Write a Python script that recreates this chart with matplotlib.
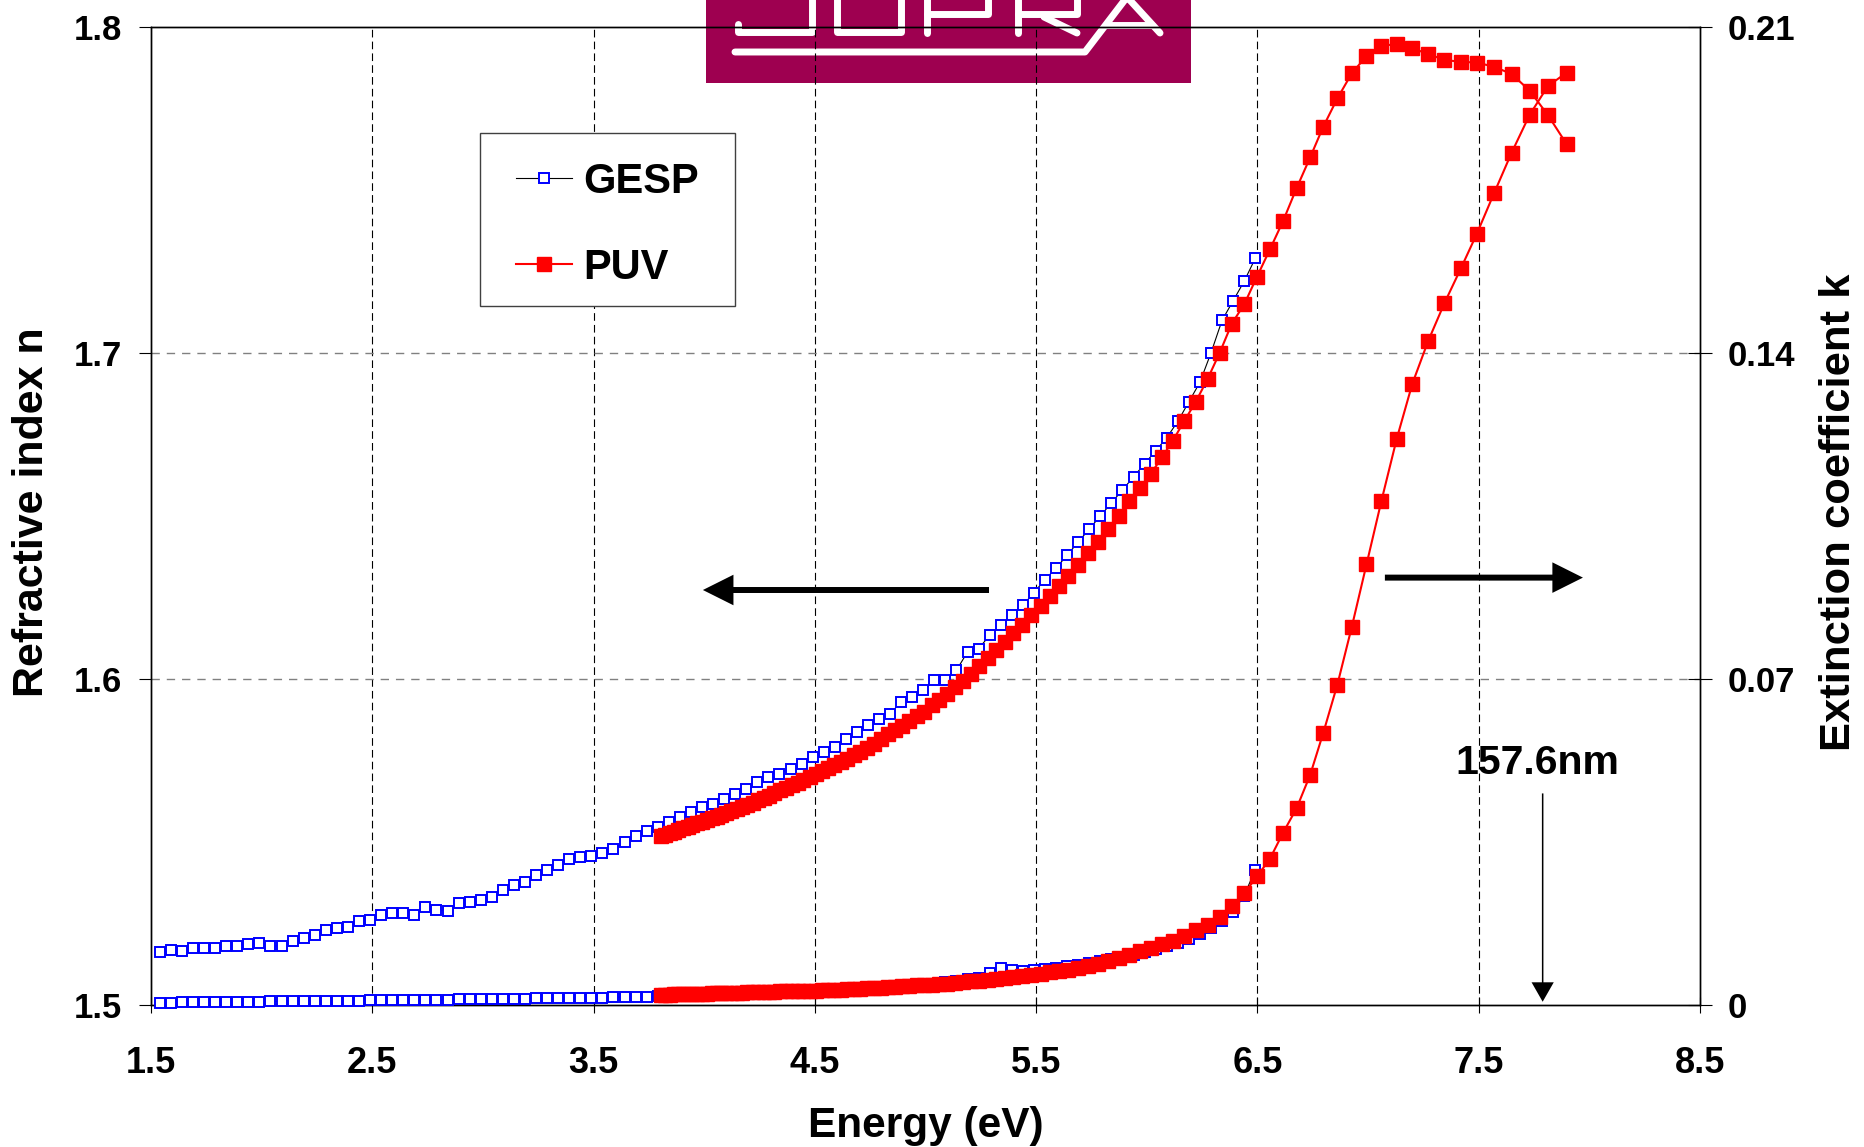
import numpy as np
import matplotlib
matplotlib.use('Agg')
import matplotlib.pyplot as plt
from matplotlib.patches import Rectangle

plt.rcParams['font.family'] = ['Liberation Sans', 'DejaVu Sans']
plt.rcParams['font.weight'] = 'bold'
plt.rcParams['lines.scale_dashes'] = False

# GESP ellipsometer (0.05 eV steps)
gesp_ev = [1.54, 1.59, 1.64, 1.69, 1.74, 1.79, 1.84, 1.89, 1.94, 1.99,
           2.04, 2.09, 2.14, 2.19, 2.24, 2.29, 2.34, 2.39, 2.44, 2.49,
           2.54, 2.59, 2.64, 2.69, 2.74, 2.79, 2.84, 2.89, 2.94, 2.99,
           3.04, 3.09, 3.14, 3.19, 3.24, 3.29, 3.34, 3.39, 3.44, 3.49,
           3.54, 3.59, 3.64, 3.69, 3.74, 3.79, 3.84, 3.89, 3.94, 3.99,
           4.04, 4.09, 4.14, 4.19, 4.24, 4.29, 4.34, 4.39, 4.44, 4.49,
           4.54, 4.59, 4.64, 4.69, 4.74, 4.79, 4.84, 4.89, 4.94, 4.99,
           5.04, 5.09, 5.14, 5.19, 5.24, 5.29, 5.34, 5.39, 5.44, 5.49,
           5.54, 5.59, 5.64, 5.69, 5.74, 5.79, 5.84, 5.89, 5.94, 5.99,
           6.04, 6.09, 6.14, 6.19, 6.24, 6.29, 6.34, 6.39, 6.44, 6.49]
gesp_n = [1.5164, 1.5169, 1.5166, 1.5174, 1.5174, 1.5176, 1.5181, 1.5181, 1.5186, 1.5189,
          1.5181, 1.5181, 1.5197, 1.5204, 1.5215, 1.5230, 1.5237, 1.5238, 1.5258, 1.5261,
          1.5276, 1.5281, 1.5281, 1.5276, 1.5302, 1.5291, 1.5288, 1.5312, 1.5315, 1.5322,
          1.5332, 1.5353, 1.5368, 1.5378, 1.5399, 1.5414, 1.5429, 1.5447, 1.5453, 1.5458,
          1.5465, 1.5478, 1.5499, 1.5519, 1.5535, 1.5547, 1.5561, 1.5576, 1.5592, 1.5607,
          1.5618, 1.5633, 1.5648, 1.5664, 1.5683, 1.5699, 1.5710, 1.5725, 1.5740, 1.5760,
          1.5776, 1.5791, 1.5816, 1.5837, 1.5858, 1.5878, 1.5894, 1.5929, 1.5945, 1.5965,
          1.5996, 1.5997, 1.6027, 1.6083, 1.6093, 1.6134, 1.6165, 1.6195, 1.6226, 1.6265,
          1.6305, 1.6340, 1.6380, 1.6420, 1.6460, 1.6500, 1.6540, 1.6580, 1.6620, 1.6660,
          1.6700, 1.6740, 1.6790, 1.6850, 1.6910, 1.7000, 1.7100, 1.7160, 1.7220, 1.7290]
gesp_k = [0.0005, 0.0005, 0.0006, 0.0006, 0.0006, 0.0006, 0.0007, 0.0007, 0.0007, 0.0007,
          0.0008, 0.0008, 0.0008, 0.0008, 0.0009, 0.0009, 0.0009, 0.0009, 0.0009, 0.0010,
          0.0010, 0.0010, 0.0010, 0.0011, 0.0011, 0.0011, 0.0011, 0.0012, 0.0012, 0.0012,
          0.0012, 0.0013, 0.0013, 0.0013, 0.0014, 0.0014, 0.0014, 0.0015, 0.0015, 0.0016,
          0.0016, 0.0017, 0.0017, 0.0018, 0.0018, 0.0019, 0.0019, 0.0020, 0.0020, 0.0021,
          0.0021, 0.0022, 0.0023, 0.0023, 0.0024, 0.0025, 0.0026, 0.0027, 0.0028, 0.0029,
          0.0030, 0.0031, 0.0032, 0.0033, 0.0034, 0.0036, 0.0038, 0.0040, 0.0042, 0.0044,
          0.0046, 0.0049, 0.0052, 0.0055, 0.0058, 0.0068, 0.0080, 0.0076, 0.0074, 0.0076,
          0.0078, 0.0080, 0.0083, 0.0086, 0.0090, 0.0094, 0.0098, 0.0103, 0.0108, 0.0114,
          0.0120, 0.0127, 0.0134, 0.0142, 0.0152, 0.0165, 0.0180, 0.0200, 0.0235, 0.0290]

# PUV ellipsometer, measured on a wavelength grid (nm)
puv_nm = [157.0, 158.7, 160.4, 162.1, 163.8, 165.5, 167.1, 168.8, 170.5, 172.2,
          173.9, 175.6, 177.3, 179.0, 180.7, 182.4, 184.0, 185.7, 187.4, 189.1,
          190.8, 192.5, 194.2, 195.9, 197.6, 199.3, 201.0, 202.7, 204.3, 206.0,
          207.7, 209.4, 211.1, 212.8, 214.5, 216.2, 217.9, 219.6, 221.2, 222.9,
          224.6, 226.3, 228.0, 229.7, 231.4, 233.1, 234.8, 236.5, 238.1, 239.8,
          241.5, 243.2, 244.9, 246.6, 248.3, 250.0, 251.7, 253.4, 255.0, 256.7,
          258.4, 260.1, 261.8, 263.5, 265.2, 266.9, 268.6, 270.3, 271.9, 273.6,
          275.3, 277.0, 278.7, 280.4, 282.1, 283.8, 285.5, 287.2, 288.8, 290.5,
          292.2, 293.9, 295.6, 297.3, 299.0, 300.7, 302.4, 304.1, 305.7, 307.4,
          309.1, 310.8, 312.5, 314.2, 315.9, 317.6, 319.3, 321.0, 322.6, 324.3,
          326.0]
puv_n = [1.7641, 1.7730, 1.7805, 1.7856, 1.7878, 1.7891, 1.7893, 1.7899, 1.7917, 1.7935,
         1.7947, 1.7943, 1.7911, 1.7858, 1.7781, 1.7694, 1.7600, 1.7505, 1.7405, 1.7318,
         1.7234, 1.7150, 1.7090, 1.7000, 1.6920, 1.6850, 1.6790, 1.6730, 1.6680, 1.6630,
         1.6585, 1.6545, 1.6500, 1.6460, 1.6420, 1.6385, 1.6350, 1.6315, 1.6285, 1.6255,
         1.6225, 1.6195, 1.6165, 1.6140, 1.6115, 1.6090, 1.6065, 1.6040, 1.6015, 1.5995,
         1.5975, 1.5955, 1.5935, 1.5920, 1.5900, 1.5885, 1.5870, 1.5856, 1.5843, 1.5830,
         1.5815, 1.5802, 1.5788, 1.5777, 1.5766, 1.5755, 1.5745, 1.5736, 1.5727, 1.5718,
         1.5709, 1.5700, 1.5690, 1.5682, 1.5674, 1.5666, 1.5658, 1.5650, 1.5642, 1.5635,
         1.5628, 1.5621, 1.5614, 1.5607, 1.5601, 1.5595, 1.5589, 1.5583, 1.5578, 1.5573,
         1.5567, 1.5562, 1.5557, 1.5552, 1.5547, 1.5542, 1.5537, 1.5532, 1.5527, 1.5522,
         1.5517]
puv_k = [0.2002, 0.1973, 0.1911, 0.1830, 0.1743, 0.1656, 0.1582, 0.1507, 0.1426, 0.1334,
         0.1216, 0.1083, 0.0946, 0.0812, 0.0688, 0.0584, 0.0494, 0.0422, 0.0370, 0.0314,
         0.0276, 0.0240, 0.0212, 0.0190, 0.0172, 0.0160, 0.0148, 0.0138, 0.0130, 0.0122,
         0.0115, 0.0108, 0.0100, 0.0094, 0.0089, 0.0084, 0.0080, 0.0076, 0.0073, 0.0070,
         0.0067, 0.0065, 0.0062, 0.0060, 0.0058, 0.0056, 0.0054, 0.0052, 0.0051, 0.0049,
         0.0048, 0.0046, 0.0045, 0.0044, 0.0043, 0.0042, 0.0041, 0.0040, 0.0039, 0.0038,
         0.0037, 0.0037, 0.0036, 0.0035, 0.0034, 0.0034, 0.0033, 0.0033, 0.0032, 0.0032,
         0.0031, 0.0031, 0.0030, 0.0030, 0.0030, 0.0029, 0.0029, 0.0028, 0.0028, 0.0028,
         0.0027, 0.0027, 0.0027, 0.0026, 0.0026, 0.0026, 0.0025, 0.0025, 0.0025, 0.0025,
         0.0024, 0.0024, 0.0024, 0.0024, 0.0023, 0.0023, 0.0023, 0.0023, 0.0022, 0.0022,
         0.0022]

puv_ev = 1239.84 / np.array(puv_nm)

x_ticks = [1.5, 2.5, 3.5, 4.5, 5.5, 6.5, 7.5, 8.5]
n_ticks = [1.5, 1.6, 1.7, 1.8]
k_ticks = [0, 0.07, 0.14, 0.21]
k_ticklabels = ['0', '0.07', '0.14', '0.21']

W, H = 1864, 1147
fig = plt.figure(figsize=(W / 100, H / 100), dpi=100)

# logo banner behind the plot, drawn in pixel units
bg = fig.add_axes([0, 0, 1, 1], zorder=0)
bg.set_xlim(0, W)
bg.set_ylim(H, 0)
bg.axis('off')
bg.add_patch(Rectangle((706, 0), 485, 83, color='#9e0050', lw=0))
logo_strokes = [
    [(738, 24), (738, 32), (812, 32), (812, -10)],
    [(837, -10), (837, 32), (901, 32), (901, -10)],
    [(927, -10), (927, 33)],
    [(927, 14), (988, 14), (988, -10)],
    [(1018, -10), (1018, 33)],
    [(1018, 14), (1077, 14), (1077, -10)],
    [(1044, 17), (1077, 33)],
    [(735, 52), (1085, 52), (1127, -3), (1160, 33)],
    [(1107, 25), (1152, 25)],
]
for s in logo_strokes:
    xs, ys = zip(*s)
    bg.plot(xs, ys, color='white', lw=5, solid_capstyle='round',
            solid_joinstyle='round')

ax = fig.add_axes([151 / W, 1 - 1005 / H, 1549 / W, 978 / H], zorder=1)
ax.patch.set_visible(False)
ax2 = ax.twinx()
ax2.set_zorder(2)
ax2.patch.set_visible(False)

for x in x_ticks[1:-1]:
    ax.axvline(x, color='black', lw=0.8, dashes=(5.5, 3), zorder=1)
for y in n_ticks[1:-1]:
    ax.axhline(y, color='#808080', lw=1.0, dashes=(6, 5), zorder=1)

gesp_style = dict(color='black', lw=0.8, marker='s', ms=7.8, mfc='white',
                  mec='blue', mew=1.4, clip_on=False, zorder=3)
puv_style = dict(color='red', lw=1.5, marker='s', ms=10.5, mfc='red',
                 mec='red', mew=1, clip_on=False, zorder=4)

l1, = ax.plot(gesp_ev, gesp_n, label='GESP', **gesp_style)
l2, = ax.plot(puv_ev, puv_n, label='PUV', **puv_style)
ax2.plot(gesp_ev, gesp_k, **gesp_style)
ax2.plot(puv_ev, puv_k, **puv_style)

ax.set_xlim(1.5, 8.5)
ax.set_ylim(1.5, 1.8)
ax2.set_ylim(0, 0.21)

ax.set_xticks(x_ticks)
ax.set_xticklabels([f'{v:.1f}' for v in x_ticks])
ax.set_yticks(n_ticks)
ax.set_yticklabels([f'{v:.1f}' for v in n_ticks])
ax2.set_yticks(k_ticks)
ax2.set_yticklabels(k_ticklabels)

ax.tick_params(axis='x', direction='inout', length=11.5, width=0.8, pad=24, labelsize=26)
ax.tick_params(axis='y', direction='out', length=8.6, width=0.8, pad=12.5, labelsize=25)
ax2.tick_params(axis='y', direction='inout', length=17, width=0.8, pad=11.5, labelsize=25)
for a in (ax, ax2):
    for sp in a.spines.values():
        sp.set_linewidth(1.0)
        sp.set_color('black')

fig.text(32 / W, 1 - 512 / H, 'Refractive index n', rotation=90,
         ha='center', va='center', fontsize=31, fontweight='bold')
fig.text(1839 / W, 1 - 512 / H, 'Extinction coefficient k', rotation=90,
         ha='center', va='center', fontsize=31.3, fontweight='bold')
fig.text(926 / W, 1 - 1137 / H, 'Energy (eV)', ha='center', va='baseline',
         fontsize=30.5, fontweight='bold')

# direction arrows: n on the left axis, k on the right axis
big = dict(arrowstyle='simple,head_length=22,head_width=22,tail_width=4.3',
           mutation_scale=1, fc='black', ec='none', lw=0, shrinkA=0, shrinkB=0)
ax.annotate('', xy=(3.994, 1.6273), xytext=(5.287, 1.6273), arrowprops=big)
ax.annotate('', xy=(7.971, 1.6311), xytext=(7.076, 1.6311), arrowprops=big)

# 157.6 nm marker
ax.annotate('', xy=(7.789, 1.5010), xytext=(7.789, 1.5649),
            arrowprops=dict(arrowstyle='simple,head_length=14,head_width=16,tail_width=1.1',
                            mutation_scale=1, fc='black', ec='none', lw=0,
                            shrinkA=0, shrinkB=0))
ax.text(7.763, 1.5742, '157.6nm', ha='center', va='center', fontsize=29.5,
        fontweight='bold')

# legend with a hand-placed frame
fig.add_artist(Rectangle((480 / W, 1 - 306 / H), 255 / W, 173 / H,
                         transform=fig.transFigure, fc='white', ec='#404040',
                         lw=1.0, zorder=4))
leg = fig.legend([l1, l2], ['GESP', 'PUV'], loc='center left',
                 bbox_to_anchor=(516 / W, 1 - 225 / H), frameon=False,
                 borderpad=0, borderaxespad=0, handlelength=1.34,
                 handletextpad=0.27, labelspacing=1.1, numpoints=1,
                 prop={'size': 30, 'weight': 'bold'})
leg.set_zorder(5)

fig.savefig('out.png', dpi=100)
